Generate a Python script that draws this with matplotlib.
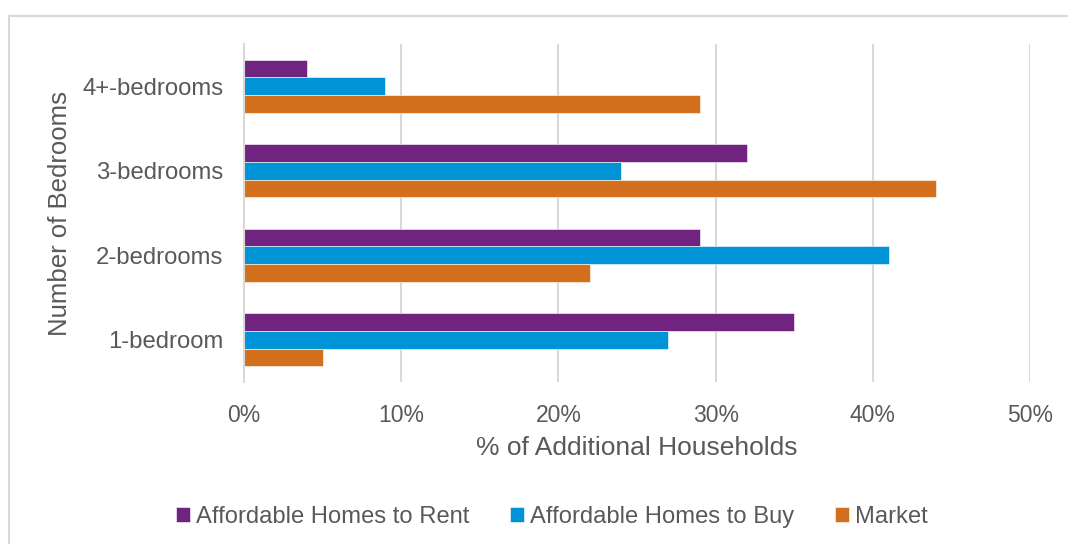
import matplotlib
matplotlib.use("Agg")
import matplotlib.pyplot as plt
import numpy as np
from matplotlib.patches import Rectangle

categories = ["1-bedroom", "2-bedrooms", "3-bedrooms", "4+-bedrooms"]
series_names = ["Affordable Homes to Rent", "Affordable Homes to Buy", "Market"]
rent = [35, 29, 32, 4]
buy = [27, 41, 24, 9]
market = [5, 22, 44, 29]
xticks = [0, 10, 20, 30, 40, 50]
colors = ["#70237F", "#0093D6", "#D2701E"]

plt.rcParams['font.family'] = ['Liberation Sans', 'DejaVu Sans']
TXT = "#595959"

W, H = 1068, 544
fig = plt.figure(figsize=(W/100, H/100), dpi=100)
fig.patch.set_facecolor("white")

# chart-area border
fig.add_artist(Rectangle((8.5/W, -0.1), 1.2, 1 - 15.5/H + 0.1, transform=fig.transFigure,
                         fill=False, edgecolor="#D9D9D9", linewidth=1.5))

ax = fig.add_axes([244/W, 1 - 382/H, (1030-244)/W, (382-44)/H])
y = np.arange(len(categories))
h = 0.209
for i, (vals, c, name) in enumerate(zip([rent, buy, market], colors, series_names)):
    ax.barh(y + (1 - i) * h, vals, height=h, color=c, label=name, edgecolor="white", linewidth=0.4)

ax.set_xlim(0, 50)
ax.set_ylim(-0.5, len(categories) - 0.5)
ax.set_xticks(xticks)
ax.set_xticklabels([f"{v}%" for v in xticks], fontsize=16.5, color=TXT)
ax.set_yticks(y)
ax.set_yticklabels(categories, fontsize=17.2, color=TXT)
ax.tick_params(axis="both", length=0)
ax.tick_params(axis="x", pad=16)
ax.tick_params(axis="y", pad=15)
ax.grid(axis="x", color="#D9D9D9", linewidth=1.5)
ax.set_axisbelow(True)
for s in ["top", "right", "bottom"]:
    ax.spines[s].set_visible(False)
ax.spines["left"].set_color("#D9D9D9")
ax.spines["left"].set_linewidth(1.5)

ax.set_xlabel("% of Additional Households", fontsize=19, color=TXT, labelpad=6)
ax.set_ylabel("Number of Bedrooms", fontsize=18.5, color=TXT, labelpad=7)

handles, labels = ax.get_legend_handles_labels()
leg = fig.legend(handles, labels, loc="center", bbox_to_anchor=(552/W, 1 - 517/H), ncol=3,
                 frameon=False, fontsize=17.1, handlelength=0.6, handleheight=0.6,
                 handletextpad=0.25, columnspacing=1.7)
for t in leg.get_texts():
    t.set_color(TXT)

fig.savefig("out.png", dpi=100)
